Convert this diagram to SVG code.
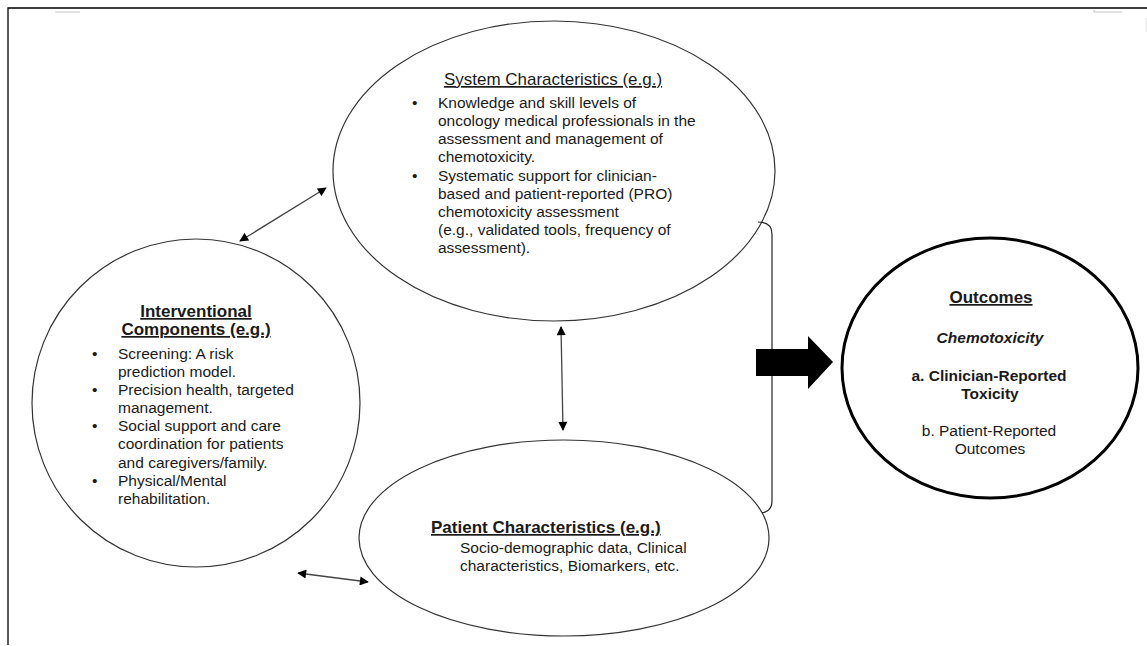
<svg xmlns="http://www.w3.org/2000/svg" width="1147" height="646" viewBox="0 0 1147 646">
<style>
  .t { font-family: "Liberation Sans", Arial, sans-serif; font-size: 15.5px; fill: #1a1a1a; }
  .h { font-size: 17px; }
  .b { font-weight: bold; }
  .u { text-decoration: underline; }
  .c { text-anchor: middle; }
  .node { fill: none; stroke: #333; stroke-width: 1.2; }
  .conn { fill: none; stroke: #444; stroke-width: 1.3; }
</style>
<defs>
  <marker id="ah" viewBox="0 0 10 10" refX="9" refY="5" markerWidth="10" markerHeight="9" markerUnits="userSpaceOnUse" orient="auto-start-reverse">
    <path d="M0,0 L10,5 L0,10 Z" fill="#000"/>
  </marker>
</defs>
<rect width="1147" height="646" fill="#fff"/>
<g id="frame">
  <path d="M8,645 L8,8 L1147,8" fill="none" stroke="#000" stroke-width="1.3"/>
  <path d="M55,12 L80,12 M1094,10 L1094,12 L1122,12" fill="none" stroke="#c8c8c8" stroke-width="1.2"/>
  <path d="M1146,18 L1146,32" fill="none" stroke="#e0e0e0" stroke-width="1"/>
</g>
<g id="system">
  <ellipse class="node" cx="554" cy="171" rx="221" ry="150"/>
  <text class="t h u c" x="553" y="85">System Characteristics (e.g.)</text>
  <text class="t" x="412" y="108">•</text>
  <text class="t" x="438" y="108">Knowledge and skill levels of</text>
  <text class="t" x="438" y="126">oncology medical professionals in the</text>
  <text class="t" x="438" y="144">assessment and management of</text>
  <text class="t" x="438" y="162">chemotoxicity.</text>
  <text class="t" x="412" y="181">•</text>
  <text class="t" x="438" y="181">Systematic support for clinician-</text>
  <text class="t" x="438" y="199">based and patient-reported (PRO)</text>
  <text class="t" x="438" y="217">chemotoxicity assessment</text>
  <text class="t" x="438" y="235">(e.g., validated tools, frequency of</text>
  <text class="t" x="438" y="253">assessment).</text>
</g>
<g id="interventional">
  <circle class="node" cx="196" cy="403" r="164"/>
  <text class="t h b u c" x="196" y="317">Interventional</text>
  <text class="t h b u c" x="196" y="335">Components (e.g.)</text>
  <text class="t" x="92" y="359">•</text>
  <text class="t" x="118" y="359">Screening: A risk</text>
  <text class="t" x="118" y="377">prediction model.</text>
  <text class="t" x="92" y="395">•</text>
  <text class="t" x="118" y="395">Precision health, targeted</text>
  <text class="t" x="118" y="413">management.</text>
  <text class="t" x="92" y="431">•</text>
  <text class="t" x="118" y="431">Social support and care</text>
  <text class="t" x="118" y="449">coordination for patients</text>
  <text class="t" x="118" y="468">and caregivers/family.</text>
  <text class="t" x="92" y="486">•</text>
  <text class="t" x="118" y="486">Physical/Mental</text>
  <text class="t" x="118" y="504">rehabilitation.</text>
</g>
<g id="patient">
  <ellipse class="node" cx="564" cy="538" rx="205" ry="98"/>
  <text class="t h b u" x="431" y="533">Patient Characteristics (e.g.)</text>
  <text class="t" x="460" y="553">Socio-demographic data, Clinical</text>
  <text class="t" x="460" y="571">characteristics, Biomarkers, etc.</text>
</g>
<g id="outcomes">
  <ellipse cx="990" cy="368" rx="148" ry="130" fill="none" stroke="#000" stroke-width="3"/>
  <text class="t h b u c" x="991" y="303">Outcomes</text>
  <text class="t b c" x="990" y="343" font-style="italic" font-size="16.5">Chemotoxicity</text>
  <text class="t b c" x="989" y="381">a. Clinician-Reported</text>
  <text class="t b c" x="990" y="399">Toxicity</text>
  <text class="t c" x="989" y="436">b. Patient-Reported</text>
  <text class="t c" x="990" y="454">Outcomes</text>
</g>
<g id="connectors">
  <path class="conn" d="M240,241 L326,188" marker-start="url(#ah)" marker-end="url(#ah)"/>
  <path class="conn" d="M561,327 L563,430" marker-start="url(#ah)" marker-end="url(#ah)"/>
  <path class="conn" d="M298,573 L368,582" marker-start="url(#ah)" marker-end="url(#ah)"/>
  <path d="M758,222 Q772,222 772,234 L772,501 Q772,511 762,513" fill="none" stroke="#222" stroke-width="1.2"/>
  <path d="M756,349 L808,349 L808,336 L833,362 L808,389 L808,376 L756,376 Z" fill="#000"/>
</g>
</svg>
